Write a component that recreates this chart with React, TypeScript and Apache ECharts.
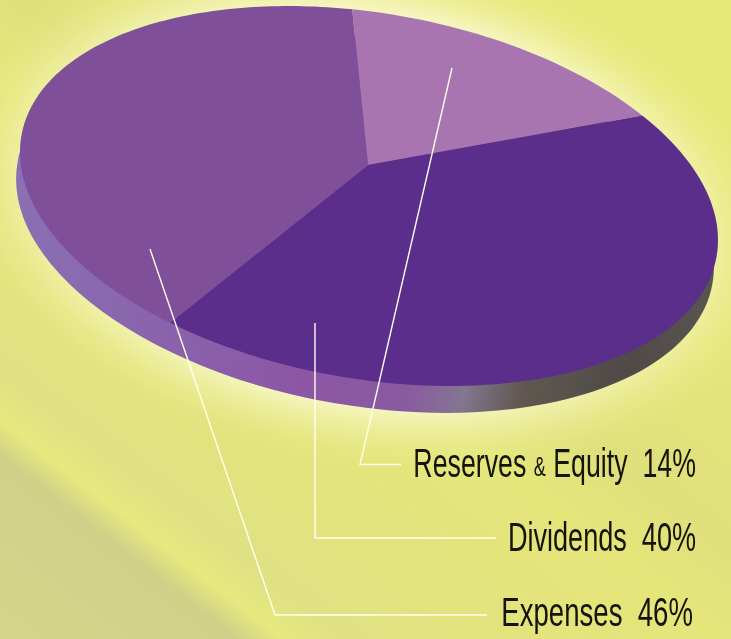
import React, { useEffect, useRef } from "react";
import * as echarts from "echarts";

const categories = ["Reserves & Equity", "Dividends", "Expenses"];
const shares = [14, 40, 46];
const sliceColors = ["#a975b0", "#5b2e8b", "#7f4f99"];

const W = 731, H = 639;
const CX = 369, CY = 196, A = 352.8, B = 182.8, TILT = 9.85 * Math.PI / 180;
const APEX: [number, number] = [368, 165];
const START_DEG = -7.9, SKEW_A = -6.86, SKEW_B = 21.57;

function ellipsePoint(tDeg: number): [number, number] {
  const t = tDeg * Math.PI / 180;
  const u = A * Math.sin(t), v = -B * Math.cos(t);
  return [CX + u * Math.cos(TILT) - v * Math.sin(TILT), CY + u * Math.sin(TILT) + v * Math.cos(TILT)];
}
function viewAngle(thetaDeg: number) {
  const r = thetaDeg * Math.PI / 180;
  return START_DEG + thetaDeg + SKEW_A * Math.sin(r) + SKEW_B * Math.sin(r / 2);
}
const total = shares.reduce((s, v) => s + v, 0);

function renderSlice(params: any, api: any) {
  const i = params.dataIndex;
  const before = shares.slice(0, i).reduce((s, v) => s + v, 0);
  const from = before / total * 360, to = (before + api.value(0)) / total * 360;
  const pts: [number, number][] = [APEX];
  const n = Math.ceil((to - from) / 1.5);
  for (let k = 0; k <= n; k++) pts.push(ellipsePoint(viewAngle(from + (to - from) * k / n)));
  return { type: "polygon", shape: { points: pts }, style: { fill: api.visual("color") } };
}

const labelFont = '"Liberation Sans Narrow", "Liberation Sans", sans-serif';

function leader(points: number[][]) {
  return { type: "polyline", z: 20, shape: { points }, style: { stroke: "#fffff0", lineWidth: 1.4, fill: "none" } };
}
function label(text: string, x: number, y: number, scaleX: number) {
  return {
    type: "text", z: 20, x, y, scaleX,
    style: {
      text, align: "right", verticalAlign: "middle", fill: "#14140a",
      font: `40px ${labelFont}`,
      rich: { s: { font: `27px ${labelFont}`, fill: "#14140a", padding: [8, 0, 0, 0] } },
    },
  };
}

export default function App() {
  const ref = useRef<HTMLDivElement>(null);
  useEffect(() => {
    const chart = echarts.init(ref.current!, undefined, { renderer: "svg" });
    chart.setOption({
      animation: false,
      graphic: [
        {
          type: "rect", z: 0, shape: { x: 0, y: 0, width: W, height: H },
          style: {
            fill: {
              type: "linear", global: true, x: 0, y: 639, x2: 493, y2: 0,
              colorStops: [
                { offset: 0, color: "#d5d68c" },
                { offset: 0.18, color: "#d0d088" },
                { offset: 0.215, color: "#e6e97e" },
                { offset: 0.26, color: "#e0e184" },
                { offset: 0.36, color: "#e2e37e" },
                { offset: 0.55, color: "#e4e67a" },
                { offset: 0.64, color: "#dfe07c" },
                { offset: 0.9, color: "#e6e878" },
                { offset: 1, color: "#e6e878" },
              ],
            },
          },
        },
        {
          type: "ellipse", z: 1, x: 367, y: 208, rotation: -TILT,
          shape: { cx: 0, cy: 0, rx: A * 1.2, ry: B * 1.42 },
          style: {
            fill: {
              type: "radial", x: 0.5, y: 0.5, r: 0.5,
              colorStops: [
                { offset: 0, color: "rgba(250,249,215,1)" },
                { offset: 0.72, color: "rgba(250,249,215,1)" },
                { offset: 0.85, color: "rgba(242,242,170,0.6)" },
                { offset: 1, color: "rgba(232,234,125,0)" },
              ],
            },
          },
        },
        {
          type: "ellipse", z: 2, x: CX - 4, y: CY + 27, rotation: -TILT,
          shape: { cx: 0, cy: 0, rx: A, ry: B },
          style: {
            fill: {
              type: "linear", x: 0, y: 0, x2: 1, y2: 0,
              colorStops: [
                { offset: 0, color: "#8a70b4" },
                { offset: 0.22, color: "#8a64ac" },
                { offset: 0.45, color: "#8c56a4" },
                { offset: 0.6, color: "#8a5aa0" },
                { offset: 0.68, color: "#827690" },
                { offset: 0.76, color: "#605850" },
                { offset: 0.9, color: "#4f4a48" },
                { offset: 1, color: "#5a5450" },
              ],
            },
          },
        },
        leader([[452, 68], [360, 464.5], [401, 464.5]]),
        leader([[315, 323], [315, 538], [496, 538]]),
        leader([[150, 249], [275, 615], [487, 615]]),
        label(`Reserves {s|&} Equity  ${shares[0]}%`, 696, 463, 0.669),
        label(`${categories[1]}  ${shares[1]}%`, 696, 537, 0.677),
        label(`${categories[2]}  ${shares[2]}%`, 693, 612, 0.69),
      ],
      series: [
        {
          type: "custom", coordinateSystem: "none", z: 5, silent: true,
          renderItem: renderSlice,
          data: shares.map((value, i) => ({ value, name: categories[i], itemStyle: { color: sliceColors[i] } })),
        },
      ],
    });
    return () => chart.dispose();
  }, []);
  return <div ref={ref} style={{ position: "fixed", left: 0, top: 0, width: W, height: H }} />;
}
